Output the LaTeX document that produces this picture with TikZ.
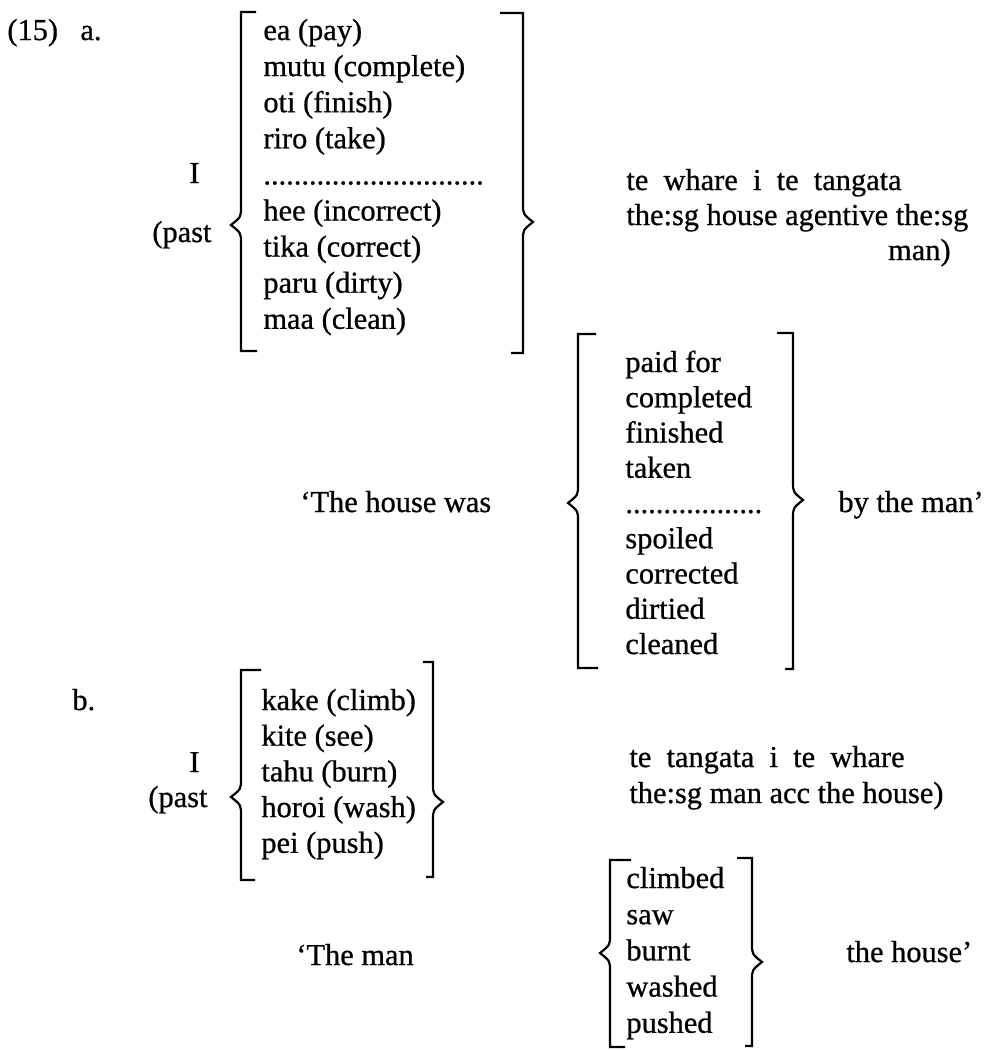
\documentclass[tikz,border=0pt]{standalone}
\usepackage{fontspec}
\setmainfont{Liberation Serif}[FakeBold=0.7]
\tikzset{
  word/.style={font=\fontsize{15.2pt}{18pt}\selectfont,anchor=base west,inner sep=0pt},
  wordr/.style={word,anchor=base east},
  brk/.style={line width=1.1pt,line join=miter}
}
% bracket with a brace point: x, top, bottom, point y, top serif end, bottom serif end
\newcommand{\leftbrk}[6]{%
  \draw[brk] (#5,#2) -- (#1,#2) -- (#1,#4-18) .. controls (#1,#4-8) .. (#1-10,#4)
    .. controls (#1,#4+8) .. (#1,#4+18) -- (#1,#3) -- (#6,#3);}
\newcommand{\rightbrk}[6]{%
  \draw[brk] (#5,#2) -- (#1,#2) -- (#1,#4-18) .. controls (#1,#4-8) .. (#1+10,#4)
    .. controls (#1,#4+8) .. (#1,#4+18) -- (#1,#3) -- (#6,#3);}
\newcommand{\dotsverb}{.............................}
\newcommand{\dotsgloss}{..................}

\begin{document}
\begin{tikzpicture}[x=0.5pt,y=-0.5pt]
  \useasboundingbox (0,0) rectangle (985,1050);

  % (15a)
  \node[word] (ex) at (7,40) {(15)};
  \node[word] (exa) at (80,40) {a.};
  \node[word] (ia) at (189,183) {I};
  \node[word] (pasta) at (152,242) {(past};
  \leftbrk{241}{12}{351}{225}{256}{257}
  \rightbrk{523}{13}{353}{222}{500}{511}
  \foreach \w [count=\i from 0] in {ea (pay), mutu (complete), oti (finish), riro (take),
      \dotsverb, hee (incorrect), tika (correct), paru (dirty), maa (clean)}
    \node[word] (va\i) at (263,40+36.1*\i) {\w};
  \node[word] (npa) at (626,190) {te\ \ whare\ \ i\ \ te\ \ tangata};
  \node[word] (gla) at (626,225) {the:sg house agentive the:sg};
  \node[wordr] (mana) at (951,260) {man)};

  \node[word] (tra) at (300,512) {‘The house was};
  \leftbrk{578}{334}{668}{503}{596}{598}
  \rightbrk{793}{333}{669}{500}{777}{785}
  \foreach \w [count=\i from 0] in {paid for, completed, finished, taken,
      \dotsgloss, spoiled, corrected, dirtied, cleaned}
    \node[word] (ta\i) at (625,372+35.25*\i) {\w};
  \node[word] (bya) at (838,512) {by the man’};

  % (15b)
  \node[word] (exb) at (72,710) {b.};
  \node[word] (ib) at (189,772) {I};
  \node[word] (pastb) at (148,807) {(past};
  \leftbrk{241}{670}{880}{797}{261}{255}
  \rightbrk{433}{662}{877}{802}{423}{426}
  \foreach \w [count=\i from 0] in {kake (climb), kite (see), tahu (burn), horoi (wash), pei (push)}
    \node[word] (vb\i) at (261,710+35.7*\i) {\w};
  \node[word] (npb) at (629,767) {te\ \ tangata\ \ i\ \ te\ \ whare};
  \node[word] (glb) at (629,803) {the:sg man acc the house)};

  \node[word] (trb) at (296,965) {‘The man};
  \leftbrk{610}{860}{1047}{953}{631}{625}
  \rightbrk{752}{858}{1046}{962}{737}{745}
  \foreach \w [count=\i from 0] in {climbed, saw, burnt, washed, pushed}
    \node[word] (tb\i) at (626,888+36.2*\i) {\w};
  \node[word] (hsb) at (846,962) {the house’};
\end{tikzpicture}
\end{document}
